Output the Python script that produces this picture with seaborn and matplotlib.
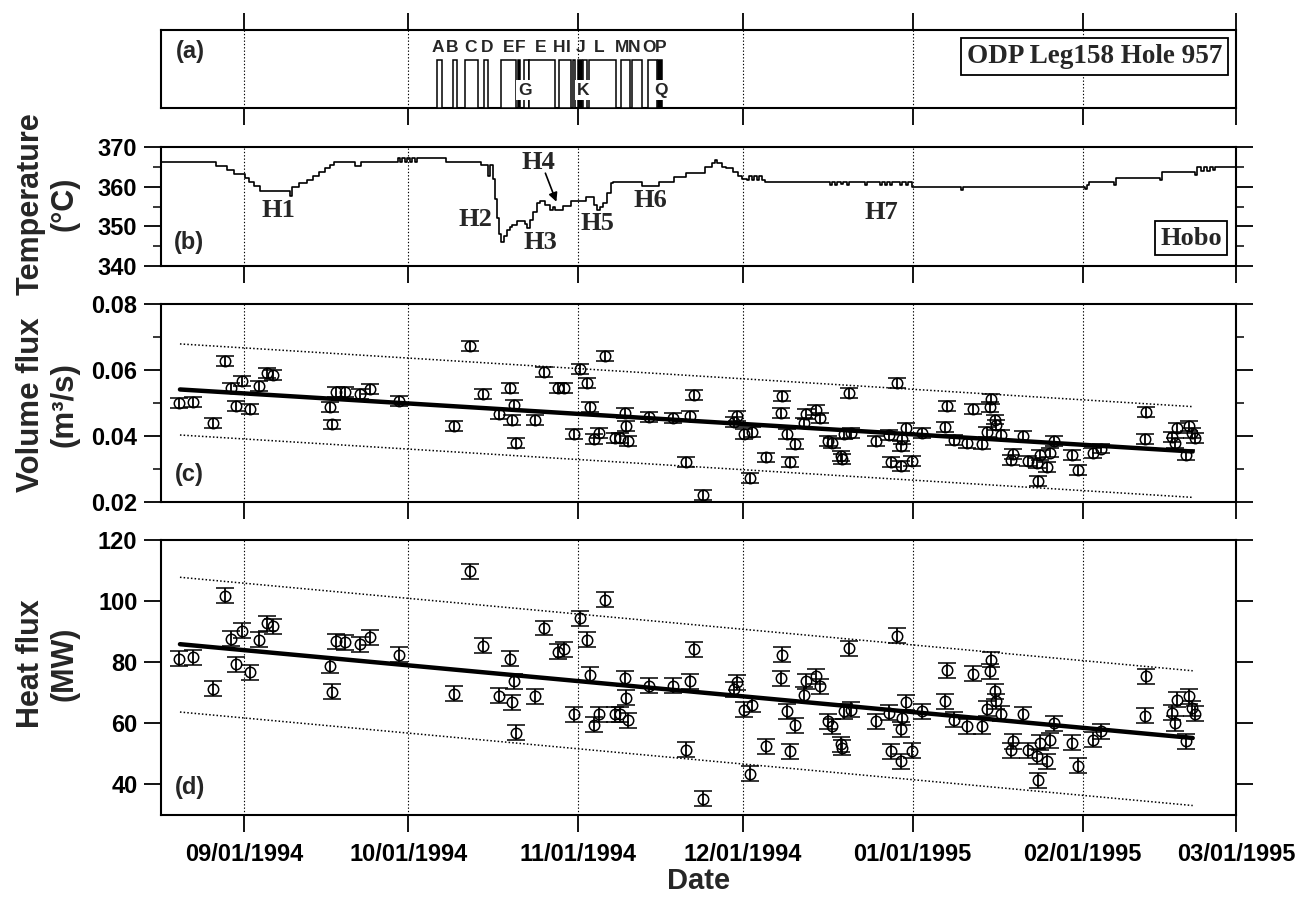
import numpy as np
import pandas as pd
import matplotlib
matplotlib.use("Agg")
import matplotlib.pyplot as plt
import matplotlib.dates as mdates
from matplotlib.ticker import MultipleLocator
import seaborn as sns

# ---------------- data ----------------
BASE = "1994-09-01"   # day offsets are counted from this date

# (b) Hobo temperature record: breakpoints (days from BASE, deg C), step-wise
temp_days = [-17, -5.11, -3.11, -1.83, 0.18, 0.91, 1.83, 2.92, 8.40, 8.77, 10.05, 11.51, 12.60,
             13.70, 14.79, 15.70, 16.44, 20.27, 21.37, 28.13, 28.49, 28.86, 29.41, 29.77, 30.32,
             30.68, 31.23, 31.60, 36.90, 43.29, 44.57, 44.93, 45.48, 45.84, 46.21, 46.58, 46.94,
             47.49, 48.04, 48.58, 48.95, 49.86, 50.78, 51.32, 51.69, 52.24, 52.79, 53.52, 54.06,
             54.98, 55.89, 56.44, 56.80, 58.08, 58.26, 59.72, 61.19, 62.47, 63.38, 63.93, 64.47,
             65.02, 65.57, 66.30, 67.03, 67.40, 72.69, 75.80, 78.54, 80.73, 84.02, 85.30, 85.84,
             86.21, 87.12, 87.85, 89.13, 90.05, 90.78, 91.69, 92.05, 92.60, 92.97, 93.52, 93.88,
             94.43, 94.98, 106.85, 107.21, 107.76, 108.13, 108.86, 109.22, 109.95, 110.32, 113.24,
             113.61, 115.98, 116.35, 116.89, 117.26, 117.81, 118.17, 119.63, 120.00, 120.73,
             121.10, 121.83, 130.78, 131.14, 153.42, 153.79, 154.16, 158.72, 159.09, 167.12,
             167.49, 173.52, 173.88, 174.61, 175.16, 175.71, 176.26, 176.80, 177.17, 182.0]
temp_vals = [366.1, 365.1, 364.1, 363.1, 362.1, 361.1, 360.1, 359.0, 357.6, 359.8, 360.8, 361.8, 362.8,
             363.8, 364.8, 365.5, 366.1, 365.2, 366.1, 367.3, 366.3, 367.3, 366.3, 367.3, 366.3,
             367.3, 366.3, 367.3, 366.1, 365.5, 362.7, 365.5, 362.0, 357.0, 352.0, 348.0, 346.1,
             347.5, 349.1, 349.8, 350.3, 351.4, 351.4, 350.5, 349.5, 351.6, 353.5, 355.8, 356.4,
             355.4, 354.1, 355.0, 354.1, 354.1, 355.2, 356.4, 356.4, 357.3, 357.3, 355.5, 354.1,
             354.8, 356.0, 358.3, 361.0, 361.3, 360.2, 361.3, 362.4, 363.5, 365.0, 366.0, 366.6,
             366.0, 365.0, 364.7, 363.6, 362.8, 362.0, 361.8, 362.6, 361.8, 362.6, 361.8, 362.6,
             361.8, 361.3, 360.4, 361.3, 360.4, 361.3, 360.6, 361.3, 360.4, 361.3, 360.4,
             361.3, 360.4, 361.3, 360.4, 361.3, 360.4, 361.3, 360.4, 361.3, 360.4,
             361.3, 359.9, 359.2, 359.9, 359.3, 360.5, 361.3, 360.5, 362.3, 361.6,
             363.6, 363.0, 364.9, 364.0, 364.9, 364.0, 364.9, 364.2, 364.9, 364.9]

# (c)/(d) measurement dates (days from BASE), volume flux (m3/s), heat flux (MW)
flux_days = [-11.82, -9.26, -5.61, -3.47, -2.37, -1.46, -0.37, 1.10, 2.68, 4.15, 5.35, 15.71, 16.13,
             16.75, 18.45, 21.19, 22.89, 28.31, 38.36, 41.28, 43.60, 46.58, 48.58, 48.89, 49.19,
             49.63, 53.15, 54.67, 57.26, 58.45, 60.15, 61.37, 62.59, 63.20, 63.80, 64.71, 65.94,
             67.76, 68.68, 69.59, 69.77, 70.01, 73.84, 78.23, 80.55, 81.33, 82.06, 83.71, 89.37,
             89.99, 91.20, 92.29, 92.73, 95.29, 98.03, 98.21, 98.99, 99.60, 100.46, 102.16, 102.47,
             104.29, 105.08, 106.54, 107.34, 108.86, 109.17, 109.46, 110.37, 110.68, 115.25, 117.68,
             117.99, 119.09, 119.82, 119.91, 120.13, 120.73, 121.95, 123.78, 127.85, 128.35, 129.55,
             132.00, 133.10, 134.61, 135.65, 136.07, 136.26, 136.99, 137.17, 138.08, 139.91, 140.22,
             142.15, 142.96, 144.66, 144.78, 145.26, 146.48, 147.09, 147.82, 150.99, 152.09, 154.83,
             156.35, 164.44, 164.57, 169.26, 169.86, 170.23, 171.87, 172.47, 172.91, 173.52]
volume_flux = [0.0499, 0.0502, 0.0440, 0.0628, 0.0546, 0.0492, 0.0566, 0.0482, 0.0551, 0.0591, 0.0586,
               0.0487, 0.0435, 0.0533, 0.0533, 0.0528, 0.0543, 0.0505, 0.0430, 0.0674, 0.0528, 0.0468,
               0.0546, 0.0448, 0.0493, 0.0380, 0.0448, 0.0594, 0.0546, 0.0546, 0.0405, 0.0604, 0.0561,
               0.0489, 0.0390, 0.0410, 0.0643, 0.0395, 0.0395, 0.0470, 0.0430, 0.0385, 0.0457, 0.0455,
               0.0322, 0.0460, 0.0523, 0.0222, 0.0442, 0.0460, 0.0405, 0.0274, 0.0412, 0.0335, 0.0470,
               0.0520, 0.0405, 0.0322, 0.0375, 0.0440, 0.0468, 0.0478, 0.0455, 0.0385, 0.0378, 0.0340,
               0.0330, 0.0405, 0.0531, 0.0408, 0.0385, 0.0402, 0.0322, 0.0561, 0.0308, 0.0370, 0.0392,
               0.0425, 0.0325, 0.0408, 0.0427, 0.0490, 0.0388, 0.0378, 0.0482, 0.0375, 0.0412, 0.0489,
               0.0513, 0.0450, 0.0432, 0.0402, 0.0328, 0.0345, 0.0400, 0.0325, 0.0318, 0.0264, 0.0342,
               0.0305, 0.0350, 0.0385, 0.0342, 0.0296, 0.0348, 0.0362, 0.0392, 0.0472, 0.0398, 0.0378,
               0.0425, 0.0342, 0.0430, 0.0410, 0.0395]
heat_flux = [81.1, 81.7, 71.3, 101.8, 87.7, 79.4, 90.3, 76.7, 87.3, 92.8, 91.7, 78.9, 70.3, 86.8, 86.6,
             85.9, 88.2, 82.4, 69.7, 109.7, 85.4, 69.1, 81.1, 66.9, 73.7, 56.9, 68.8, 91.2, 83.5, 84.3,
             62.9, 94.4, 87.3, 75.9, 59.6, 62.9, 100.4, 62.9, 62.9, 74.8, 68.3, 61.0, 72.3, 72.3, 51.4,
             73.7, 84.3, 35.3, 71.2, 73.4, 64.5, 43.5, 66.1, 52.5, 74.8, 82.4, 63.9, 50.9, 59.3, 69.4,
             73.7, 75.4, 72.1, 60.7, 59.0, 53.1, 52.0, 63.9, 84.6, 64.5, 60.7, 63.4, 50.9, 88.7, 47.6,
             58.0, 61.8, 66.9, 51.1, 63.9, 67.2, 77.3, 61.2, 59.0, 76.2, 59.0, 64.7, 77.0, 80.8, 70.5,
             67.2, 63.2, 51.2, 54.1, 62.9, 51.2, 49.2, 41.4, 53.6, 47.6, 54.5, 60.1, 53.6, 46.2, 54.7,
             57.4, 62.5, 75.4, 63.4, 60.1, 67.8, 54.1, 68.8, 65.0, 63.2]
volume_err = 0.0015
heat_err = 2.45

# regression line and dotted band end points (days, values)
fit_days = [-11.7, 173.1]
vol_fit, vol_upper, vol_lower = [0.0541, 0.0353], [0.0679, 0.0489], [0.0403, 0.0214]
heat_fit, heat_upper, heat_lower = [85.9, 55.2], [107.8, 77.2], [63.7, 33.1]

# (a) event intervals: start day, end day, filled?
event_start = [35.2, 38.2, 40.4, 43.7, 46.8, 49.9, 51.1, 52.0, 57.4, 60.0, 61.0, 61.9, 62.9, 68.7, 70.8, 73.7, 75.6]
event_end   = [36.2, 38.8, 42.7, 44.5, 49.7, 50.4, 51.9, 56.7, 59.7, 60.3, 61.6, 62.6, 67.8, 70.4, 72.7, 75.3, 76.3]
event_fill  = [0, 0, 0, 0, 0, 1, 0, 0, 0, 0, 1, 0, 0, 0, 0, 0, 1]
event_labels = ["A", "B", "C", "D", "E", "F", "E", "H", "I", "J", "L", "M", "N", "O", "P"]
event_label_days = [35.3, 38.0, 41.3, 44.4, 48.2, 50.4, 54.2, 57.4, 59.2, 61.4, 64.8, 69.0, 71.2, 73.8, 76.0]
low_labels = ["G", "K", "Q"]
low_label_days = [51.3, 61.9, 76.0]

# (b) hydrothermal event labels (days, deg C)
h_labels = ["H1", "H2", "H3", "H4", "H5", "H6", "H7"]
h_days = [6.2, 42.2, 54.1, 53.7, 64.5, 74.2, 116.2]
h_temps = [353.9, 351.6, 345.8, 366.0, 350.8, 356.6, 353.6]
h4_arrow_days = [54.98, 56.99]      # tail, tip
h4_arrow_temps = [363.4, 356.2]

month_ticks = ["1994-09-01", "1994-10-01", "1994-11-01", "1994-12-01", "1995-01-01", "1995-02-01", "1995-03-01"]

# ---------------- helpers ----------------
base = pd.Timestamp(BASE)
def to_dates(days):
    return base + pd.to_timedelta(np.asarray(days, dtype=float), unit="D")

sns.set_theme(style="ticks")
plt.rcParams["font.family"] = ["Liberation Sans", "DejaVu Sans"]
plt.rcParams["font.weight"] = "bold"
plt.rcParams["axes.linewidth"] = 1.5
SERIF = ["Liberation Serif", "DejaVu Serif"]

W, H = 1298, 901
fig = plt.figure(figsize=(W / 100, H / 100), dpi=100)

def rect(top, bottom, left=161, right=1236):
    return [left / W, 1 - bottom / H, (right - left) / W, (bottom - top) / H]

ax_a = fig.add_axes(rect(30, 108))
ax_b = fig.add_axes(rect(147, 266), sharex=ax_a)
ax_c = fig.add_axes(rect(304, 502), sharex=ax_a)
ax_d = fig.add_axes(rect(540, 815), sharex=ax_a)
axes = [ax_a, ax_b, ax_c, ax_d]

xmin = base + pd.Timedelta(days=-15.16)
xmax = pd.Timestamp("1995-03-01")
ticks = pd.to_datetime(month_ticks)

# ---- (a) events ----
ev_start = to_dates(event_start)
widths = np.array(event_end) - np.array(event_start)
for s, w, f in zip(ev_start, widths, event_fill):
    ax_a.bar(s, 0.615, width=pd.Timedelta(days=float(w)), bottom=0, align="edge",
             facecolor="black" if f else "white", edgecolor="black", linewidth=1.1, zorder=3)
for lab, d in zip(event_labels, to_dates(event_label_days)):
    ax_a.text(d, 0.78, lab, ha="center", va="center", fontsize=12.5, fontweight="bold", zorder=5)
for lab, d in zip(low_labels, to_dates(low_label_days)):
    ax_a.text(d, 0.23, lab, ha="center", va="center", fontsize=12.5, fontweight="bold", zorder=6,
              bbox=dict(boxstyle="square,pad=0.12", fc="white", ec="none"))
ax_a.text(0.027, 0.72, "(a)", transform=ax_a.transAxes, ha="center", va="center",
          fontsize=17, fontweight="bold")
ax_a.text(0.987, 0.66, "ODP Leg158 Hole 957", transform=ax_a.transAxes, ha="right", va="center",
          fontsize=19.5, fontweight="bold", family=SERIF, zorder=6,
          bbox=dict(boxstyle="square,pad=0.22", fc="white", ec="black", lw=1.3))

# ---- (b) temperature ----
temp_df = pd.DataFrame({"date": to_dates(temp_days), "temp": temp_vals})
sns.lineplot(data=temp_df, x="date", y="temp", ax=ax_b, drawstyle="steps-post",
             color="black", linewidth=1.2, estimator=None, sort=False, legend=False)
ax_b.set_ylim(340, 370)
ax_b.yaxis.set_major_locator(MultipleLocator(10))
ax_b.yaxis.set_minor_locator(MultipleLocator(5))
for lab, d, t in zip(h_labels, to_dates(h_days), h_temps):
    ax_b.text(d, t, lab, ha="center", va="center", fontsize=19, fontweight="bold", family=SERIF)
arrow_dates = to_dates(h4_arrow_days)
ax_b.annotate("", xy=(arrow_dates[1], h4_arrow_temps[1]), xytext=(arrow_dates[0], h4_arrow_temps[0]),
              arrowprops=dict(arrowstyle="-|>", color="black", lw=1.2, mutation_scale=13,
                              shrinkA=0, shrinkB=0))
ax_b.text(0.987, 0.235, "Hobo", transform=ax_b.transAxes, ha="right", va="center",
          fontsize=19, fontweight="bold", family=SERIF,
          bbox=dict(boxstyle="square,pad=0.2", fc="white", ec="black", lw=1.3))
ax_b.text(0.026, 0.20, "(b)", transform=ax_b.transAxes, ha="center", va="center",
          fontsize=17, fontweight="bold")

# ---- (c) & (d) flux ----
flux_df = pd.DataFrame({"date": to_dates(flux_days), "vol": volume_flux, "heat": heat_flux})
fit_df = pd.DataFrame({"date": to_dates(fit_days), "vf": vol_fit, "vu": vol_upper, "vl": vol_lower,
                       "hf": heat_fit, "hu": heat_upper, "hl": heat_lower})

def flux_panel(ax, col, err, fcol, ucol, lcol):
    ax.errorbar(flux_df["date"], flux_df[col], yerr=err, fmt="o", ms=7.5, mfc="none", mec="black",
                mew=1.1, ecolor="black", elinewidth=1.3, capsize=6.5, capthick=1.5, zorder=3)
    sns.lineplot(data=fit_df, x="date", y=fcol, ax=ax, color="black", linewidth=3.2,
                 estimator=None, legend=False, zorder=4)
    for c in (ucol, lcol):
        sns.lineplot(data=fit_df, x="date", y=c, ax=ax, color="black", linewidth=1.1,
                     linestyle=(0, (1, 1.4)), estimator=None, legend=False, zorder=2)

flux_panel(ax_c, "vol", volume_err, "vf", "vu", "vl")
ax_c.set_ylim(0.02, 0.08)
ax_c.yaxis.set_major_locator(MultipleLocator(0.02))
ax_c.yaxis.set_minor_locator(MultipleLocator(0.01))
ax_c.yaxis.set_major_formatter(matplotlib.ticker.FormatStrFormatter("%.2f"))
ax_c.text(0.026, 0.14, "(c)", transform=ax_c.transAxes, ha="center", va="center",
          fontsize=17, fontweight="bold")

flux_panel(ax_d, "heat", heat_err, "hf", "hu", "hl")
ax_d.set_ylim(30, 120)
ax_d.set_yticks([40, 60, 80, 100, 120])
ax_d.text(0.027, 0.10, "(d)", transform=ax_d.transAxes, ha="center", va="center",
          fontsize=17, fontweight="bold")

# ---- common axis styling (after seaborn calls so nothing is overwritten) ----
for ax in axes:
    ax.set_xlim(xmin, xmax)
    ax.set_xticks(ticks)
    ax.xaxis.grid(True, linestyle=(0, (1.2, 1.8)), color="black", linewidth=0.8)
    ax.yaxis.grid(False)
    ax.set_axisbelow(True)
    for sp in ax.spines.values():
        sp.set_visible(True)
        sp.set_color("black")
        sp.set_linewidth(1.5)
    ax.tick_params(axis="x", which="major", direction="out", length=12, width=1.3,
                   bottom=True, top=False, labelbottom=False, colors="black")
    ax.set_xlabel("")
    ax.set_ylabel("")

ax_a.set_ylim(0, 1)
ax_a.tick_params(axis="x", top=True)
ax_a.tick_params(axis="y", left=False, right=False, labelleft=False)

for ax in (ax_b, ax_c, ax_d):
    ax.tick_params(axis="y", which="major", direction="out", length=12, width=1.3,
                   left=True, right=True, labelsize=17, pad=5, colors="black")
    ax.tick_params(axis="y", which="minor", direction="out", length=6, width=1.3,
                   left=True, right=True)
    for t in ax.get_yticklabels():
        t.set_fontweight("bold")

ax_d.tick_params(axis="x", labelbottom=True, labelsize=17, pad=8)
ax_d.xaxis.set_major_formatter(mdates.DateFormatter("%m/%d/%Y"))
for t in ax_d.get_xticklabels():
    t.set_fontweight("bold")
ax_d.set_xlabel("Date", fontsize=21, fontweight="bold", labelpad=1)

# y-axis titles
fig.text(47.5 / W, 1 - 204 / H, "Temperature\n(°C)", rotation=90, ha="center", va="center",
         fontsize=22, fontweight="bold", linespacing=1.15, multialignment="center")
fig.text(47.5 / W, 1 - 405 / H, "Volume flux\n(m³/s)", rotation=90, ha="center", va="center",
         fontsize=22.5, fontweight="bold", linespacing=1.15, multialignment="center")
fig.text(47.5 / W, 1 - 664 / H, "Heat flux\n(MW)", rotation=90, ha="center", va="center",
         fontsize=22, fontweight="bold", linespacing=1.15, multialignment="center")

fig.savefig("out.png", dpi=100, facecolor="white")
